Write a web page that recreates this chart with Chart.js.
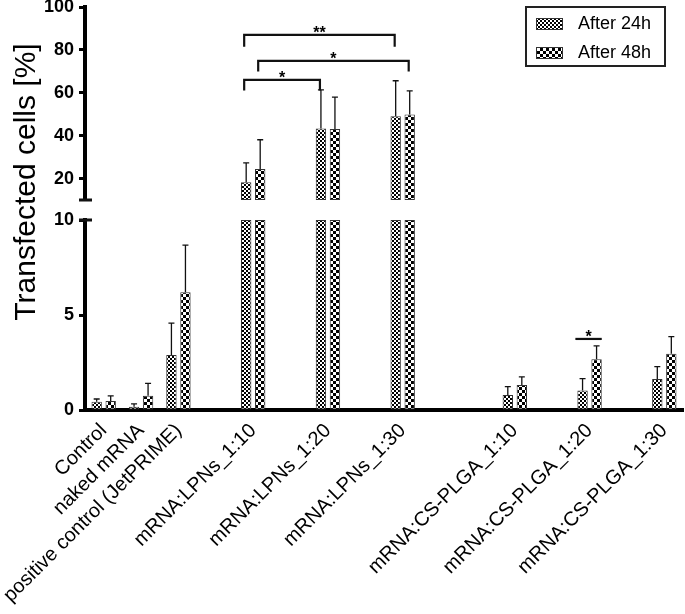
<!DOCTYPE html>
<html>
<head>
<meta charset="utf-8">
<script src="https://cdn.jsdelivr.net/npm/chart.js@4.4.1/dist/chart.umd.min.js"></script>
<style>
  html, body { margin: 0; padding: 0; background: #fff; }
  #wrap { width: 685px; height: 614px; }
</style>
</head>
<body>
<div id="wrap"><canvas id="myChart"></canvas></div>
<script>
// Categorieen (lege plekken = ruimte tussen de groepen)
const categories = ['Control', 'naked mRNA', 'positive control (JetPRIME)', '',
  'mRNA:LPNs_1:10', '', 'mRNA:LPNs_1:20', '', 'mRNA:LPNs_1:30', '', '',
  'mRNA:CS-PLGA_1:10', '', 'mRNA:CS-PLGA_1:20', '', 'mRNA:CS-PLGA_1:30'];
const after24 = [0.44, 0.17, 2.89, null, 18.3, null, 43.4, null, 49.0, null, null, 0.79, null, 1.02, null, 1.63];
const after48 = [0.47, 0.75, 6.2, null, 24.5, null, 43.1, null, 49.9, null, null, 1.32, null, 2.67, null, 2.96];
const sd24 = [0.14, 0.15, 1.68, null, 9.0, null, 18.0, null, 16.6, null, null, 0.44, null, 0.63, null, 0.65];
const sd48 = [0.27, 0.65, 2.48, null, 13.6, null, 14.9, null, 11.0, null, null, 0.42, null, 0.71, null, 0.9];
const lowerTicks = [0, 5, 10];
const upperTicks = [20, 40, 60, 80, 100];
const breakAt = 10;

// Significantie: [categorie, reeks] van -> tot, hoogte, einde van de pootjes, label
const sigFrom = [[4, 0], [4, 1], [4, 0], [13, 0]];
const sigTo = [[8, 0], [8, 1], [6, 0], [13, 1]];
const sigY = [87.0, 74.9, 66.0, 3.74];
const sigLeg = [81.5, 69.9, 61.1, null];
const sigLabels = ['**', '*', '*', '*'];

const FONT = '"Liberation Sans", Arial, Helvetica, sans-serif';
Chart.defaults.font.family = FONT;
Chart.defaults.color = '#000';

// Patronen voor de staven
function makePattern(cell) {
  const c = document.createElement('canvas');
  c.width = cell * 2; c.height = cell * 2;
  const g = c.getContext('2d');
  g.fillStyle = '#fff'; g.fillRect(0, 0, c.width, c.height);
  g.fillStyle = '#000';
  g.fillRect(0, 0, cell, cell);
  g.fillRect(cell, cell, cell, cell);
  return g.createPattern(c, 'repeat');
}
const fine = makePattern(2);
const coarse = makePattern(3);

const lower = arr => arr.map(v => v == null ? null : Math.min(v, breakAt));
const upper = arr => arr.map(v => v != null && v > breakAt ? [breakAt, v] : null);

const barStyle = { borderColor: '#333', borderWidth: 1, borderSkipped: false,
  categoryPercentage: 0.75, barPercentage: 0.74 };

const extras = {
  id: 'extras',
  afterDatasetsDraw(chart) {
    const ctx = chart.ctx;
    const yLow = chart.scales.y, yUp = chart.scales.yTop;
    const scaleFor = v => v > breakAt ? yUp : yLow;
    const px = v => scaleFor(v).getPixelForValue(v);
    const barOf = (i, s) => {
      const v = s === 0 ? after24[i] : after48[i];
      return chart.getDatasetMeta(v > breakAt ? s + 2 : s).data[i];
    };
    ctx.save();
    // foutbalken
    ctx.strokeStyle = '#111';
    ctx.lineWidth = 1.3;
    [[after24, sd24, 0], [after48, sd48, 1]].forEach(([vals, sds, s]) => {
      vals.forEach((v, i) => {
        if (v == null) return;
        const bar = barOf(i, s);
        const y0 = px(v), y1 = px(v + sds[i]);
        ctx.beginPath();
        ctx.moveTo(bar.x, y0); ctx.lineTo(bar.x, y1);
        ctx.moveTo(bar.x - 3, y1); ctx.lineTo(bar.x + 3, y1);
        ctx.stroke();
      });
    });
    // significantie haken
    ctx.lineWidth = 2.2;
    ctx.fillStyle = '#000';
    ctx.font = 'bold 16px ' + FONT;
    ctx.textAlign = 'center';
    ctx.textBaseline = 'alphabetic';
    sigLabels.forEach((lab, k) => {
      const b1 = barOf(sigFrom[k][0], sigFrom[k][1]);
      const b2 = barOf(sigTo[k][0], sigTo[k][1]);
      const y = px(sigY[k]);
      let x1, x2;
      ctx.beginPath();
      if (sigLeg[k] != null) {
        x1 = b1.x - 2; x2 = b2.x - 1;
        const yl = px(sigLeg[k]);
        ctx.moveTo(x1, yl); ctx.lineTo(x1, y); ctx.lineTo(x2, y); ctx.lineTo(x2, yl);
      } else {
        x1 = b1.x - b1.width / 2 - 2; x2 = b2.x + b2.width / 2;
        ctx.moveTo(x1, y); ctx.lineTo(x2, y);
      }
      ctx.stroke();
      ctx.fillText(lab, (x1 + x2) / 2, y + 3);
    });
    // as-onderbreking
    const left = chart.chartArea.left;
    ctx.lineWidth = 3;
    ctx.beginPath();
    ctx.moveTo(left - 6, yUp.bottom); ctx.lineTo(left + 7, yUp.bottom);
    ctx.moveTo(left - 6, yLow.top); ctx.lineTo(left + 7, yLow.top);
    ctx.stroke();
    // y titel
    ctx.save();
    ctx.translate(35, 182);
    ctx.rotate(-Math.PI / 2);
    ctx.font = '30px ' + FONT;
    ctx.textBaseline = 'alphabetic';
    ctx.fillText('Transfected cells [%]', 0, 0);
    ctx.restore();
    // legenda
    const lx = 526, ly = 7, lw = 139, lh = 59;
    ctx.fillStyle = '#fff';
    ctx.fillRect(lx, ly, lw, lh);
    ctx.lineWidth = 2;
    ctx.strokeStyle = '#222';
    ctx.strokeRect(lx, ly, lw, lh);
    ctx.font = '18px ' + FONT;
    ctx.textAlign = 'left';
    ctx.textBaseline = 'middle';
    [0, 1].forEach(s => {
      const ds = chart.data.datasets[s];
      const cy = 24 + s * 29;
      ctx.fillStyle = ds.backgroundColor;
      ctx.fillRect(536, cy - 6, 27, 12);
      ctx.lineWidth = 1;
      ctx.strokeStyle = '#333';
      ctx.strokeRect(536.5, cy - 5.5, 26, 11);
      ctx.fillStyle = '#000';
      ctx.fillText(ds.label, 578, cy);
    });
    ctx.restore();
  }
};

const yCommon = {
  type: 'linear',
  position: 'left',
  stack: 'yas',
  stacked: false,
  border: { display: true, width: 4, color: '#000' },
  grid: { display: true, drawOnChartArea: false, drawTicks: true, tickLength: 6, tickWidth: 3, tickColor: '#000' },
  ticks: { font: { size: 18, weight: 'bold' }, color: '#000', padding: 5 },
  afterFit: s => { s.width = 85; s.paddingTop = 0; s.paddingBottom = 0; }
};

const config = {
  type: 'bar',
  data: {
    labels: categories,
    datasets: [
      Object.assign({ label: 'After 24h', data: lower(after24), yAxisID: 'y', stack: 'a', backgroundColor: fine }, barStyle),
      Object.assign({ label: 'After 48h', data: lower(after48), yAxisID: 'y', stack: 'b', backgroundColor: coarse }, barStyle),
      Object.assign({ label: 'After 24h', data: upper(after24), yAxisID: 'yTop', stack: 'a', backgroundColor: fine }, barStyle),
      Object.assign({ label: 'After 48h', data: upper(after48), yAxisID: 'yTop', stack: 'b', backgroundColor: coarse }, barStyle)
    ]
  },
  options: {
    responsive: true,
    maintainAspectRatio: false,
    animation: false,
    layout: { padding: { top: 7, right: 2, left: 0, bottom: 0 } },
    plugins: { legend: { display: false }, tooltip: { enabled: false } },
    scales: {
      x: {
        type: 'category',
        offset: true,
        grid: { display: false, drawTicks: false },
        border: { display: true, width: 4, color: '#000' },
        ticks: { autoSkip: false, maxRotation: 45, minRotation: 45, padding: 9, font: { size: 20 }, color: '#000' },
        afterFit: s => { s.height = 204; s.paddingLeft = 0; s.paddingRight = 0; }
      },
      yTop: Object.assign({}, yCommon, {
        min: breakAt, max: 100, stackWeight: 193, weight: 3,
        afterBuildTicks: s => { s.ticks = upperTicks.map(v => ({ value: v })); }
      }),
      yGap: {
        type: 'linear', position: 'left', stack: 'yas', stackWeight: 20, weight: 2,
        display: false
      },
      y: Object.assign({}, yCommon, {
        min: 0, max: breakAt, stackWeight: 190, weight: 1,
        afterBuildTicks: s => { s.ticks = lowerTicks.map(v => ({ value: v })); }
      })
    }
  },
  plugins: [extras]
};

var myChart = new Chart(document.getElementById('myChart'), config);
</script>
</body>
</html>
